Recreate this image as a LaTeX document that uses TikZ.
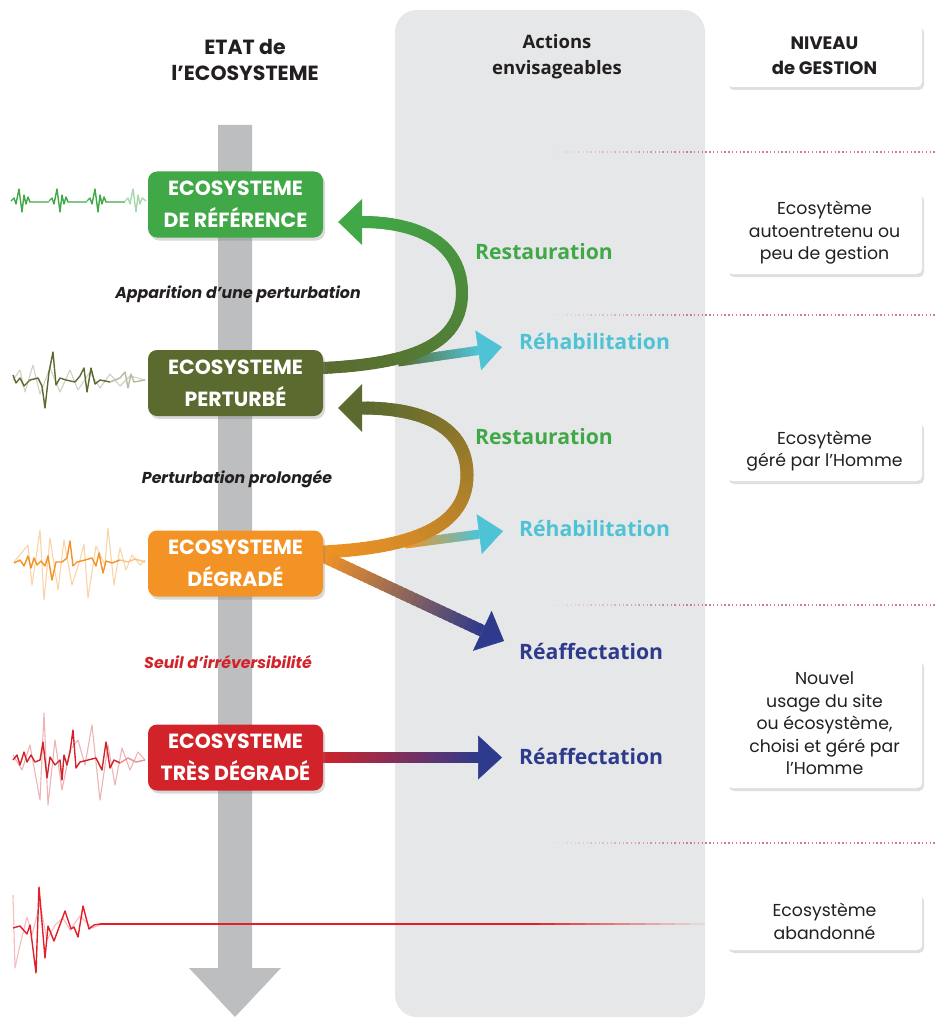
\documentclass[tikz,border=0pt]{standalone}
\usepackage{fontspec}
\setmainfont{Poppins}
\newfontfamily\pop{Poppins}
\newfontfamily\osans{Open Sans}
\usetikzlibrary{arrows.meta,shadows,calc}
\pgfdeclarelayer{bg}
\pgfdeclarelayer{mid}
\pgfsetlayers{bg,mid,main}

\definecolor{panelgray}{HTML}{E6E7E8}
\definecolor{axisgray}{HTML}{BCBEC0}
\definecolor{refgreen}{HTML}{40A847}
\definecolor{olivec}{HTML}{5B6A2F}
\definecolor{orangec}{HTML}{F39325}
\definecolor{redc}{HTML}{D2232A}
\definecolor{cyanc}{HTML}{4EC3D6}
\definecolor{navyc}{HTML}{2E3A8C}
\definecolor{dotpink}{HTML}{D27C93}
\definecolor{txtdark}{HTML}{231F20}
\definecolor{sigred}{HTML}{E3202A}

\newcommand\gradbez[8]{%
  \foreach \gk in {1,...,#8}{%
    \pgfmathsetmacro\gA{(\gk-1)/#8}%
    \pgfmathsetmacro\gB{\gk/#8}%
    \pgfmathtruncatemacro\gP{round(100*(\gk-0.5)/#8)}%
    \path (#1) .. controls (#2) and (#3) .. (#4) coordinate[pos=\gA] (gpa) coordinate[pos=\gB] (gpb);%
    \draw[line width=#7, line cap=round, #6!\gP!#5] (gpa) -- (gpb);%
  }%
}
\newcommand\gradline[6]{%
  \foreach \gk in {1,...,#6}{%
    \pgfmathsetmacro\gA{(\gk-1)/#6}%
    \pgfmathsetmacro\gB{min(1,(\gk+0.6)/#6)}%
    \pgfmathtruncatemacro\gP{round(100*(\gk-0.5)/#6)}%
    \draw[line width=#5, line cap=butt, #4!\gP!#3] ($(#1)!\gA!(#2)$) -- ($(#1)!\gB!(#2)$);%
  }%
}

\begin{document}
\begin{tikzpicture}[x=1pt,y=-1pt,
  stbox/.style={rounded corners=9pt, minimum width=175pt, minimum height=66pt, inner sep=0pt,
    text=white, align=center, font=\pop\bfseries\fontsize{20.5}{32}\selectfont,
    drop shadow={opacity=0.3, shadow xshift=2pt, shadow yshift=-3pt}},
  gbox/.style={fill=white, rounded corners=5pt, minimum width=195pt, inner sep=0pt, align=center,
    text=txtdark, font=\pop\fontsize{17.3}{22.5}\selectfont,
    drop shadow={opacity=0.25, shadow xshift=2pt, shadow yshift=-3pt}},
  hdr/.style={align=center, text=txtdark, inner sep=0pt, font=\pop\bfseries\fontsize{20.5}{26}\selectfont},
  act/.style={anchor=west, inner sep=0pt, font=\osans\bfseries\fontsize{21.2}{24}\selectfont},
  italab/.style={inner sep=0pt, font=\pop\bfseries\itshape\fontsize{15.8}{18}\selectfont},
  sig/.style={line width=1.4pt, line join=round},
  ghost/.style={line width=1.1pt, line join=round},
  dotline/.style={dotpink, line width=1.4pt, dash pattern=on 1.4pt off 2.4pt},
  headtip/.style={line width=0.5pt, -{Triangle[length=24pt,width=#1]}}
]
\useasboundingbox (0,0) rectangle (936,1019);

% ---------- background ----------
\begin{pgfonlayer}{bg}
\fill[panelgray, rounded corners=22pt] (395,10) rectangle (705,1017);
\fill[axisgray] (218,125) -- (252,125) -- (252,968) -- (281,968) -- (235,1017) -- (189,968) -- (218,968) -- cycle;
% dotted separators
\foreach \yy in {152,315,605,843}{
  \foreach \k in {0,...,9}{
    \pgfmathsetmacro\op{(\k+1)/11}
    \draw[dotline, opacity=\op] (555+12*\k,\yy) -- (567+12*\k,\yy);
  }
  \draw[dotline] (675,\yy) -- (936,\yy);
}
\end{pgfonlayer}

% ---------- headers ----------
\node[hdr] (etat) at (245,60) {ETAT de\\l’ECOSYSTEME};
\node[align=center, text=txtdark, inner sep=0pt, font=\osans\bfseries\fontsize{18.5}{26}\selectfont] (actions) at (557,57) {Actions\\envisageables};
\node[gbox, minimum height=63pt, font=\pop\bfseries\fontsize{18}{25}\selectfont] (niveau) at (824.5,55.5) {NIVEAU\\de GESTION};

% ---------- management boxes ----------
\node[gbox, minimum height=82pt] (g1) at (824.5,233) {Ecosytème\\autoentretenu ou\\peu de gestion};
\node[gbox, minimum height=60pt] (g2) at (824.5,451) {Ecosytème\\géré par l’Homme};
\node[gbox, minimum height=129pt] (g3) at (824.5,723.5) {Nouvel\\usage du site\\ou écosystème,\\choisi et géré par\\l’Homme};
\node[gbox, minimum height=57pt] (g4) at (824.5,921.5) {Ecosystème\\abandonné};

% ---------- state boxes ----------
\node[stbox, fill=refgreen] (ref) at (235.5,204.5) {ECOSYSTEME\\DE RÉFÉRENCE};
\node[stbox, fill=olivec] (pert) at (235.5,383) {ECOSYSTEME\\PERTURBÉ};
\node[stbox, fill=orangec] (degr) at (235.5,563.5) {ECOSYSTEME\\DÉGRADÉ};
\node[stbox, fill=redc] (tres) at (235.5,757.5) {ECOSYSTEME\\TRÈS DÉGRADÉ};

% ---------- transition labels ----------
\node[italab, text=txtdark] (lab1) at (238,294) {Apparition d’une perturbation};
\node[italab, text=txtdark] (lab2) at (237,479) {Perturbation prolongée};
\node[italab, text=redc] (lab3) at (228,662) {Seuil d’irréversibilité};

% ---------- action labels ----------
\node[act, text=refgreen] (rest1) at (475,252) {Restauration};
\node[act, text=cyanc] (reh1) at (519,341) {Réhabilitation};
\node[act, text=refgreen] (rest2) at (475,437) {Restauration};
\node[act, text=cyanc] (reh2) at (519,528) {Réhabilitation};
\node[act, text=navyc] (reaf1) at (519,651) {Réaffectation};
\node[act, text=navyc] (reaf2) at (519,756) {Réaffectation};

% ---------- arrows ----------
\begin{pgfonlayer}{mid}
% perturbé -> référence (restauration) + réhabilitation
\coordinate (a1s) at ($(pert.east)+(0,-15)$);
\coordinate (a1m) at (462,293);
\coordinate (a1tip) at ($(ref.east)+(15,17.5)$);
\coordinate (a1h) at ($(a1tip)+(24,0)$);
\coordinate (r1s) at (398,362);
\coordinate (r1tip) at ($(reh1.west)+(-17,6)$);
\coordinate (r1h) at ($(r1tip)!24pt!(r1s)$);
\gradline{r1s}{r1h}{olivec}{cyanc}{9pt}{20}
\draw[cyanc, headtip=40pt] (r1h) -- (r1tip);
\coordinate (c1) at (400,364); \coordinate (c2) at (462,350);
\coordinate (c3) at (462,238); \coordinate (c4) at (410,222);
\gradbez{a1s}{c1}{c2}{a1m}{olivec}{olivec!50!refgreen}{12pt}{30}
\gradbez{a1m}{c3}{c4}{a1h}{olivec!50!refgreen}{refgreen}{12pt}{30}
\draw[refgreen, headtip=46pt] (a1h) -- (a1tip);

% dégradé -> perturbé (restauration) + réhabilitation + réaffectation
\coordinate (a2s) at ($(degr.east)+(0,-11.5)$);
\coordinate (a2m) at (467,475);
\coordinate (a2tip) at ($(pert.east)+(15,25)$);
\coordinate (a2h) at ($(a2tip)+(24,0)$);
\coordinate (r2s) at (405,544);
\coordinate (r2tip) at ($(reh2.west)+(-16,3)$);
\coordinate (r2h) at ($(r2tip)!24pt!(r2s)$);
\gradline{r2s}{r2h}{orangec}{cyanc}{9pt}{20}
\draw[cyanc, headtip=40pt] (r2h) -- (r2tip);
\coordinate (d1) at (405,548); \coordinate (d2) at (467,530);
\coordinate (d3) at (467,425); \coordinate (d4) at (420,408);
\gradbez{a2s}{d1}{d2}{a2m}{orangec}{orangec!50!olivec}{13pt}{30}
\gradbez{a2m}{d3}{d4}{a2h}{orangec!50!olivec}{olivec}{13pt}{30}
\draw[olivec, headtip=48pt] (a2h) -- (a2tip);

\coordinate (f1s) at ($(degr.east)+(0,-7)$);
\coordinate (f1tip) at ($(reaf1.west)+(-15,-10)$);
\coordinate (f1h) at ($(f1tip)!24pt!(f1s)$);
\gradline{f1s}{f1h}{orangec}{navyc}{12pt}{30}
\draw[navyc, headtip=44pt] (f1h) -- (f1tip);

% très dégradé -> réaffectation
\coordinate (f2tip) at ($(reaf2.west)+(-17,1.5)$);
\coordinate (f2h) at ($(f2tip)+(-24,0)$);
\shade[left color=redc, right color=navyc] ($(tres.east)+(-4,-5)$) rectangle ($(f2h)+(1,5)$);
\draw[navyc, headtip=44pt] (f2h) -- (f2tip);

% abandoned: flat line across
\draw[sigred, line width=1.4pt] (100,924) -- (540,924);
\foreach \k in {0,...,10}{
  \pgfmathsetmacro\op{1-(\k+1)/12}
  \draw[sigred, line width=1.4pt, opacity=\op] (540+15*\k,924) -- (555+15*\k,924);
}
\end{pgfonlayer}

% ---------- signals ----------
% green
\foreach \xo in {11,49,87}{
  \draw[sig, refgreen] (\xo,201) -- (\xo+3,198) -- (\xo+5,204) -- (\xo+8,189) -- (\xo+11,212) -- (\xo+13,195) -- (\xo+15,204) -- (\xo+17,197) -- (\xo+19,202) -- (\xo+38,202);
}
\draw[sig, refgreen!45] (125,201) -- (128,198) -- (130,204) -- (133,189) -- (136,212) -- (138,195) -- (140,204) -- (142,198) -- (146,201);

% olive
\draw[ghost, olivec!30] (13,380) -- (20,370) -- (25,392) -- (33,365) -- (40,394) -- (50,368) -- (60,392) -- (70,370) -- (78,390) -- (90,372) -- (100,388) -- (110,374) -- (120,386) -- (130,376) -- (145,380);
\draw[sig, olivec] (13,375) -- (16,383) -- (20,378) -- (24,386) -- (30,380) -- (38,378) -- (42,386) -- (45,408) -- (49,372) -- (53,352) -- (56,385) -- (60,378) -- (66,380) -- (75,382) -- (80,376) -- (84,368) -- (87,392) -- (91,368) -- (95,384) -- (100,380) -- (110,382);
\draw[sig, olivec!45] (110,382) -- (120,378) -- (125,372) -- (128,388) -- (131,374) -- (134,382) -- (145,380);

% orange
\draw[ghost, orangec!40] (14,562) -- (28,545) -- (32,585) -- (40,530) -- (44,600) -- (50,538) -- (58,590) -- (64,540) -- (72,585) -- (80,560) -- (84,544) -- (88,598) -- (96,546) -- (105,565) -- (108,528) -- (114,585) -- (120,548) -- (126,570) -- (132,555) -- (140,565) -- (145,560);
\draw[sig, orangec] (14,563) -- (20,560) -- (24,566) -- (28,556) -- (31,568) -- (34,558) -- (37,565) -- (41,561) -- (45,566) -- (48,556) -- (52,580) -- (56,562) -- (62,562) -- (67,558) -- (70,541) -- (73,566) -- (77,562) -- (85,560) -- (92,558) -- (96,566) -- (99,553) -- (103,573) -- (106,561) -- (112,563) -- (120,560);
\draw[sig, orangec!55] (120,560) -- (128,562) -- (135,559) -- (145,562);

% red
\draw[ghost, redc!35] (13,755) -- (22,770) -- (30,745) -- (40,800) -- (44,713) -- (48,805) -- (55,740) -- (62,790) -- (70,750) -- (78,740) -- (85,765) -- (92,725) -- (100,800) -- (108,745) -- (115,785) -- (122,748) -- (130,770) -- (138,752) -- (145,760);
\draw[sig, redc] (13,760) -- (17,755) -- (20,765) -- (24,752) -- (27,762) -- (31,755) -- (35,762) -- (40,760) -- (43,742) -- (47,778) -- (50,757) -- (55,765) -- (60,760) -- (62,780) -- (64,755) -- (67,765) -- (70,752) -- (73,730) -- (76,768) -- (80,762) -- (88,760) -- (96,758) -- (102,770) -- (106,742) -- (110,768) -- (114,760) -- (120,763);
\draw[sig, redc!50] (120,763) -- (128,758) -- (136,762) -- (145,760);

% abandoned spikes
\draw[ghost, sigred!30] (13,895) -- (15,968) -- (20,945) -- (27,917) -- (32,935) -- (40,903) -- (47,940) -- (55,925) -- (63,918) -- (70,930) -- (80,916) -- (92,928) -- (100,925);
\draw[sig, sigred] (13,928) -- (20,926) -- (27,934) -- (30,925) -- (36,973) -- (39,887) -- (45,958) -- (48,926) -- (54,941) -- (65,911) -- (71,929) -- (74,927) -- (78,937) -- (83,906) -- (89,929) -- (94,925) -- (100,924);
\end{tikzpicture}
\end{document}
